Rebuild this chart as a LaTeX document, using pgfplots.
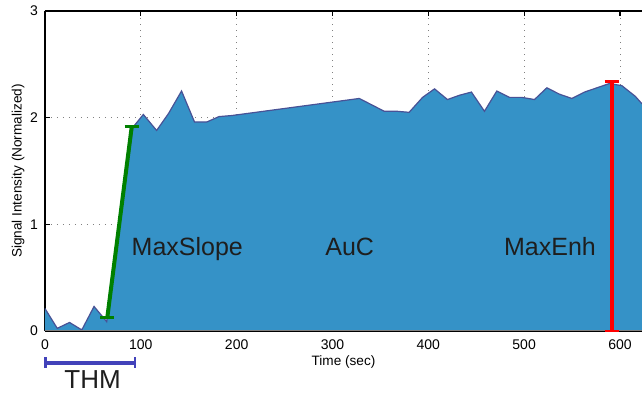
\documentclass[border=0pt]{standalone}
\usepackage{fontspec}
\setmainfont{Liberation Sans}
\usepackage{pgfplots}
\usepackage{pgfplotstable}
\pgfplotsset{compat=1.18}
\definecolor{areafill}{RGB}{53,146,199}
\definecolor{areaedge}{RGB}{72,82,150}
\definecolor{thmblue}{RGB}{66,66,186}
\definecolor{slopegreen}{RGB}{0,128,0}
\definecolor{txt}{RGB}{30,30,30}
\pgfplotstableread{
t v
0 0.21
12.8 0.025
25.6 0.08
38.4 0.01
51.2 0.23
64.4 0.087
91.8 1.91
102.6 2.03
116.5 1.88
129 2.04
142.5 2.25
156 1.96
169 1.96
181.6 2.01
195 2.02
328 2.18
354 2.06
367 2.06
380 2.05
394 2.19
406.5 2.27
420 2.17
432.5 2.21
445 2.24
458.6 2.06
471.5 2.25
484.7 2.19
497.6 2.19
510.8 2.17
523.7 2.28
536.9 2.22
549.8 2.18
563 2.24
589 2.32
602 2.30
616 2.20
623 2.13
}\sigdata
\begin{document}
\begin{tikzpicture}
\begin{axis}[
  scale only axis, width=298.5pt, height=160pt,
  xmin=0, xmax=623, ymin=0, ymax=3,
  axis x line=box, axis y line=left,
  axis line style={black, line width=0.6pt, -},
  xtick={0,100,...,600}, ytick={0,1,2,3},
  tick align=inside, major tick length=2.75pt,
  tick style={black, line width=0.6pt},
  grid=major, grid style={gray, dash pattern=on 0.5pt off 2.5pt, line width=0.4pt},
  clip=false,
  /pgf/number format/assume math mode=true,
  ticklabel style={font=\fontsize{7}{8}\selectfont},
  xticklabel style={yshift=-1pt},
  xlabel={Time (sec)},
  ylabel={Signal Intensity (Normalized)},
  label style={font=\fontsize{6.8}{8}\selectfont},
  xlabel style={at={(axis description cs:0.5,-0.0969)}, anchor=center},
  ylabel style={at={(axis description cs:-0.0452,0.5)}, anchor=center},
]
\coordinate (SW) at (rel axis cs:0,0);
\coordinate (NE) at (rel axis cs:1,1);
\addplot[fill=areafill, draw=none] table[x=t,y=v] {\sigdata} \closedcycle;
\addplot[areaedge, line width=0.6pt] table[x=t,y=v] {\sigdata};
\addplot[gray, line width=0.5pt] coordinates {(0,0) (623,0)};
% MaxSlope
\addplot[slopegreen, line width=2pt] coordinates {(65,0.125) (90.5,1.915)};
\addplot[slopegreen, line width=1.4pt] coordinates {(57.7,0.125) (72.3,0.125)};
\addplot[slopegreen, line width=1.4pt] coordinates {(83.2,1.915) (97.8,1.915)};
% MaxEnh
\addplot[red, line width=2.25pt] coordinates {(591.5,0) (591.5,2.34)};
\addplot[red, line width=1.4pt] coordinates {(583.9,2.34) (599.1,2.34)};
\addplot[red, line width=1.4pt] coordinates {(583.9,0) (599.1,0)};
% THM
\addplot[thmblue, line width=2pt] coordinates {(0.5,-0.297) (94,-0.297)};
\addplot[thmblue, line width=1.4pt] coordinates {(0.5,-0.247) (0.5,-0.347)};
\addplot[thmblue, line width=1.4pt] coordinates {(94,-0.247) (94,-0.347)};
\node[txt, anchor=base, font=\fontsize{12.5}{14}\selectfont] at (axis cs:148.5,0.71) {MaxSlope};
\node[txt, anchor=base, font=\fontsize{12.5}{14}\selectfont] at (axis cs:318,0.71) {AuC};
\node[txt, anchor=base, font=\fontsize{12.5}{14}\selectfont] at (axis cs:527,0.71) {MaxEnh};
\node[txt, anchor=base, font=\fontsize{13}{15}\selectfont] at (axis cs:49.6,-0.54) {THM};
\end{axis}
\pgfresetboundingbox
\path ([shift={(-22.5pt,-31.5pt)}]SW) rectangle ([shift={(0pt,5.5pt)}]NE);
\end{tikzpicture}
\end{document}
